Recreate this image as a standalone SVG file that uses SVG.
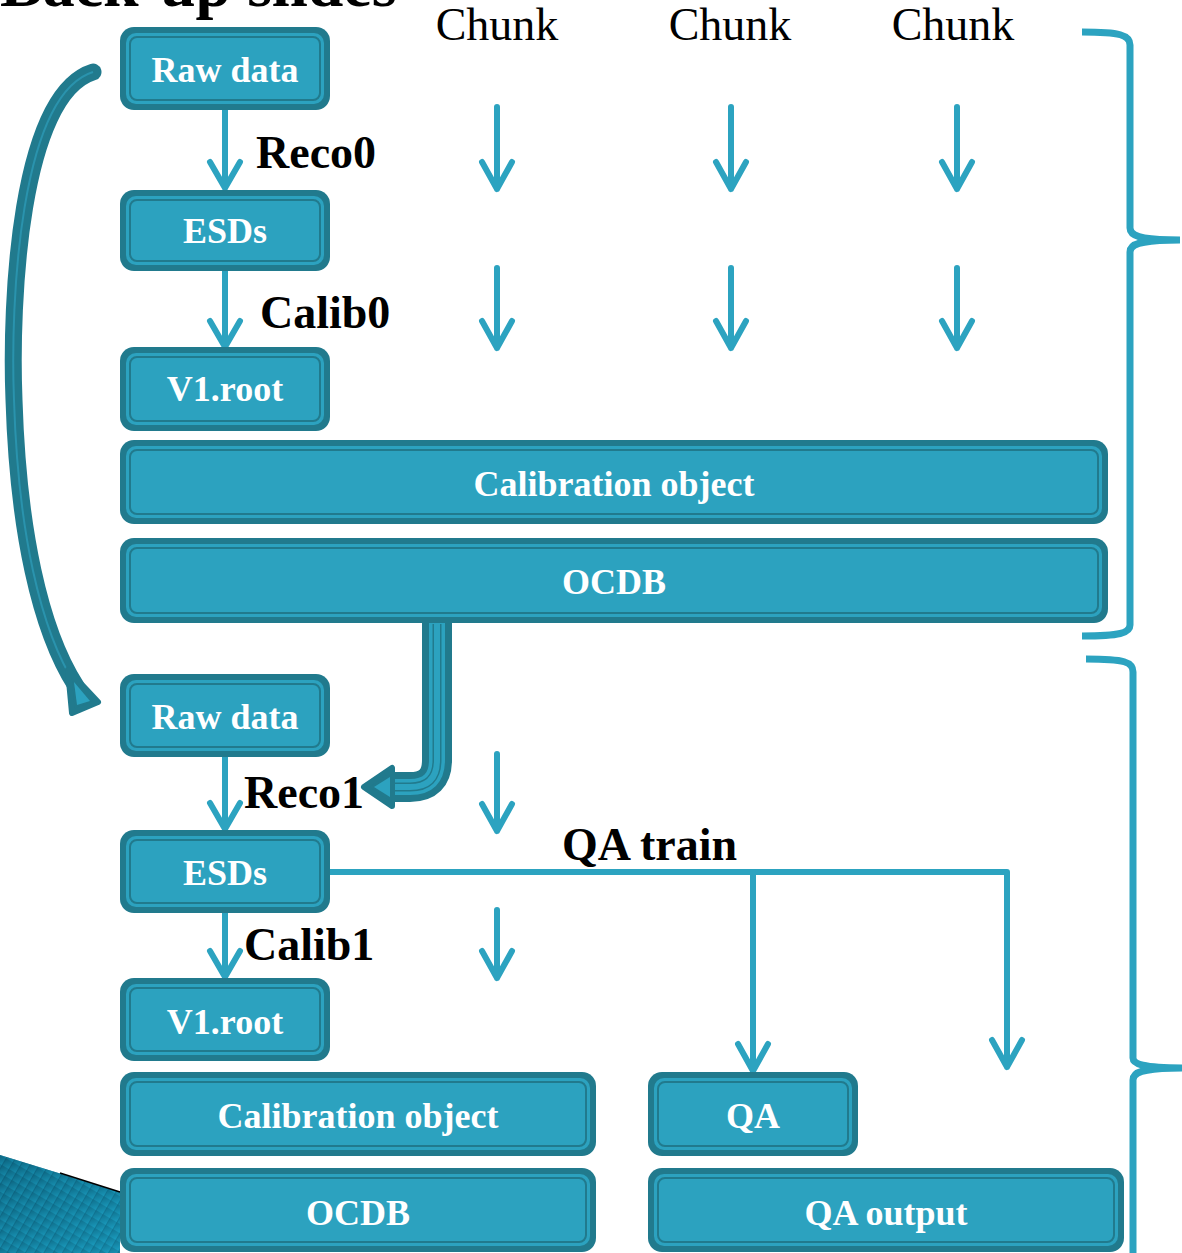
<svg xmlns="http://www.w3.org/2000/svg" width="1182" height="1253" viewBox="0 0 1182 1253">
<defs>
<style>
.o{fill:#217a8d}
.i{fill:#2ca2bf}
.l{fill:none;stroke:#217a8d;stroke-width:2}
.nt{font-family:"Liberation Serif","Times New Roman",serif;font-weight:bold;font-size:36px;fill:#fff;text-anchor:middle}
.lb{font-family:"Liberation Serif","Times New Roman",serif;font-weight:bold;font-size:46px;fill:#000}
.ch{font-family:"Liberation Serif","Times New Roman",serif;font-size:46px;fill:#000;text-anchor:middle}
.ar{fill:none;stroke:#2ca3c0;stroke-width:6;stroke-linecap:round;stroke-linejoin:round}
.br{fill:none;stroke:#2ca3c0;stroke-width:7}
</style>
<linearGradient id="dg" x1="0" y1="0" x2="1" y2="1">
<stop offset="0" stop-color="#0b5f7a"/>
<stop offset="1" stop-color="#1b9fc2"/>
</linearGradient>
<pattern id="st" width="8" height="8" patternUnits="userSpaceOnUse" patternTransform="rotate(30)">
<rect width="8" height="8" fill="url(#dg)"/>
<line x1="0" y1="0" x2="0" y2="8" stroke="#0a5570" stroke-width="2" opacity="0.5"/>
</pattern>
</defs>
<rect width="1182" height="1253" fill="#fff"/>
<g id="decoration">
<polygon points="0,1155 120,1192 120,1253 0,1253" fill="url(#dg)"/>
<polygon points="0,1155 120,1192 120,1253 0,1253" fill="url(#st)" opacity="0.6"/>
<line x1="60" y1="1173" x2="120" y2="1192" stroke="#000" stroke-width="1.5"/>
</g>
<text x="0" y="6" font-family="Liberation Serif,Times New Roman,serif" font-weight="bold" font-size="64">Back-up slides</text>
<g id="chunks">
<text class="ch" x="497" y="40">Chunk</text>
<text class="ch" x="730" y="40">Chunk</text>
<text class="ch" x="953" y="40">Chunk</text>
</g>
<g id="connectors">
<g id="big-curve">
<path d="M 93 72 C 20 95, 10 300, 14 400 C 18 530, 40 630, 76 686" fill="none" stroke="#217a8d" stroke-width="17" stroke-linecap="round"/>
<path d="M 93 72 C 20 95, 10 300, 14 400 C 18 530, 40 630, 76 686" fill="none" stroke="#2a93ad" stroke-width="2"/>
<polygon points="68,670 98,702 72,713" fill="#217a8d" stroke="#217a8d" stroke-width="6" stroke-linejoin="round"/>
<polygon points="74,682 90,701 77,705" fill="#2ca2bf"/>
</g>
<g id="ocdb-arrow">
<path d="M 437 622 L 437 760 Q 437 787 410 787 L 390 787" fill="none" stroke="#217a8d" stroke-width="30"/>
<path d="M 437 622 L 437 760 Q 437 787 410 787 L 388 787" fill="none" stroke="#2ca2bf" stroke-width="16"/>
<path d="M 437 624 L 437 760 Q 437 787 410 787 L 388 787" fill="none" stroke="#217a8d" stroke-width="9"/>
<path d="M 437 624 L 437 760 Q 437 787 410 787 L 388 787" fill="none" stroke="#2ca2bf" stroke-width="6"/>
<polygon points="364,787 392,768 392,806" fill="#217a8d" stroke="#217a8d" stroke-width="6" stroke-linejoin="round"/>
<polygon points="374,787 390,777 390,797" fill="#2ca2bf"/>
</g>
<path class="ar" d="M225 110 V188 M210 162 L225 188 L240 162"/>
<path class="ar" d="M225 271 V347 M210 321 L225 347 L240 321"/>
<path class="ar" d="M225 757 V829 M210 803 L225 829 L240 803"/>
<path class="ar" d="M225 913 V977 M210 951 L225 977 L240 951"/>
<path class="ar" d="M497 107 V189 M482 162 L497 189 L512 162"/>
<path class="ar" d="M731 107 V189 M716 162 L731 189 L746 162"/>
<path class="ar" d="M957 107 V189 M942 162 L957 189 L972 162"/>
<path class="ar" d="M497 268 V348 M482 321 L497 348 L512 321"/>
<path class="ar" d="M731 268 V348 M716 321 L731 348 L746 321"/>
<path class="ar" d="M957 268 V348 M942 321 L957 348 L972 321"/>
<path class="ar" d="M497 754 V831 M482 804 L497 831 L512 804"/>
<path class="ar" d="M497 910 V978 M482 951 L497 978 L512 951"/>
<path class="ar" d="M330 872 H1007 V1067 M992 1040 L1007 1067 L1022 1040"/>
<path class="ar" d="M753 872 V1071 M738 1044 L753 1071 L768 1044"/>
<path class="br" d="M1082 32 C1120 32 1130 35 1130 45 V228 C1130 236 1140 240 1180 240 C1140 240 1130 244 1130 252 V625 C1130 633 1120 636 1082 636"/>
<path class="br" d="M1086 659 C1125 659 1133 662 1133 672 V1058 C1133 1064 1143 1068 1182 1068 C1143 1068 1133 1072 1133 1080 V1253"/>
</g>
<g id="labels">
<text class="lb" x="256" y="168">Reco0</text>
<text class="lb" x="260" y="328">Calib0</text>
<text class="lb" x="244" y="808">Reco1</text>
<text class="lb" x="244" y="960">Calib1</text>
<text class="lb" x="562" y="860">QA train</text>
</g>
<g id="n-raw1"><rect class="o" x="120" y="27" width="210" height="83" rx="14"/><rect class="i" x="126" y="33" width="198" height="71" rx="10"/><rect class="l" x="130" y="37" width="190" height="63" rx="7"/><text class="nt" x="225" y="82">Raw data</text></g>
<g id="n-esd1"><rect class="o" x="120" y="190" width="210" height="81" rx="14"/><rect class="i" x="126" y="196" width="198" height="69" rx="10"/><rect class="l" x="130" y="200" width="190" height="61" rx="7"/><text class="nt" x="225" y="243">ESDs</text></g>
<g id="n-v1a"><rect class="o" x="120" y="347" width="210" height="84" rx="14"/><rect class="i" x="126" y="353" width="198" height="72" rx="10"/><rect class="l" x="130" y="357" width="190" height="64" rx="7"/><text class="nt" x="225" y="401">V1.root</text></g>
<g id="n-cal1"><rect class="o" x="120" y="440" width="988" height="84" rx="14"/><rect class="i" x="126" y="446" width="976" height="72" rx="10"/><rect class="l" x="130" y="450" width="968" height="64" rx="7"/><text class="nt" x="614" y="496">Calibration object</text></g>
<g id="n-ocdb1"><rect class="o" x="120" y="538" width="988" height="85" rx="14"/><rect class="i" x="126" y="544" width="976" height="73" rx="10"/><rect class="l" x="130" y="548" width="968" height="65" rx="7"/><text class="nt" x="614" y="594">OCDB</text></g>
<g id="n-raw2"><rect class="o" x="120" y="674" width="210" height="83" rx="14"/><rect class="i" x="126" y="680" width="198" height="71" rx="10"/><rect class="l" x="130" y="684" width="190" height="63" rx="7"/><text class="nt" x="225" y="729">Raw data</text></g>
<g id="n-esd2"><rect class="o" x="120" y="830" width="210" height="83" rx="14"/><rect class="i" x="126" y="836" width="198" height="71" rx="10"/><rect class="l" x="130" y="840" width="190" height="63" rx="7"/><text class="nt" x="225" y="885">ESDs</text></g>
<g id="n-v1b"><rect class="o" x="120" y="978" width="210" height="83" rx="14"/><rect class="i" x="126" y="984" width="198" height="71" rx="10"/><rect class="l" x="130" y="988" width="190" height="63" rx="7"/><text class="nt" x="225" y="1034">V1.root</text></g>
<g id="n-cal2"><rect class="o" x="120" y="1072" width="476" height="84" rx="14"/><rect class="i" x="126" y="1078" width="464" height="72" rx="10"/><rect class="l" x="130" y="1082" width="456" height="64" rx="7"/><text class="nt" x="358" y="1128">Calibration object</text></g>
<g id="n-ocdb2"><rect class="o" x="120" y="1168" width="476" height="84" rx="14"/><rect class="i" x="126" y="1174" width="464" height="72" rx="10"/><rect class="l" x="130" y="1178" width="456" height="64" rx="7"/><text class="nt" x="358" y="1225">OCDB</text></g>
<g id="n-qa"><rect class="o" x="648" y="1072" width="210" height="84" rx="14"/><rect class="i" x="654" y="1078" width="198" height="72" rx="10"/><rect class="l" x="658" y="1082" width="190" height="64" rx="7"/><text class="nt" x="753" y="1128">QA</text></g>
<g id="n-qaout"><rect class="o" x="648" y="1168" width="476" height="84" rx="14"/><rect class="i" x="654" y="1174" width="464" height="72" rx="10"/><rect class="l" x="658" y="1178" width="456" height="64" rx="7"/><text class="nt" x="886" y="1225">QA output</text></g>
</svg>
